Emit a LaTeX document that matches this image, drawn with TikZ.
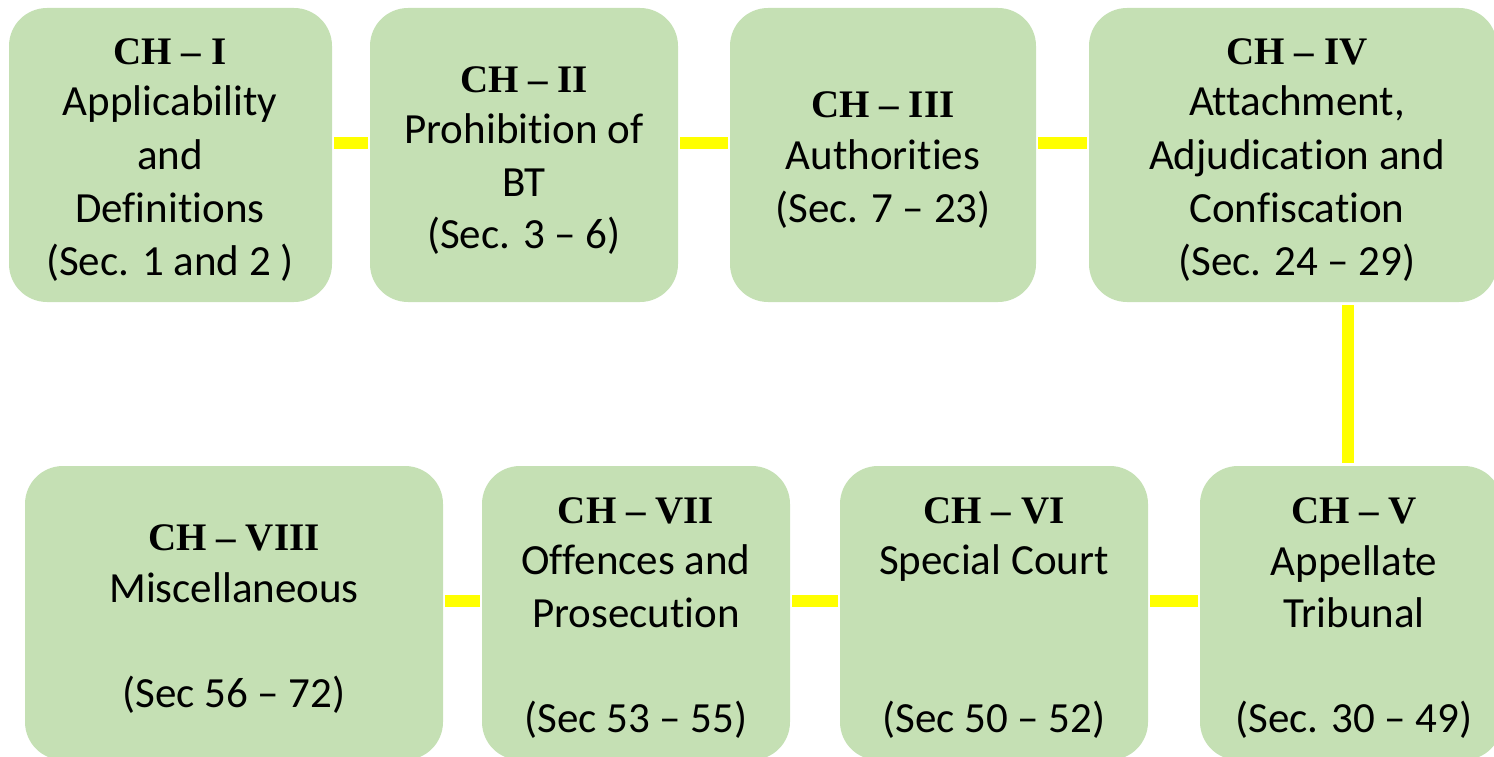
\documentclass[tikz,border=0pt]{standalone}
\usepackage{fontspec}
\setmainfont[Ligatures={NoCommon,NoContextual,NoRare}]{Carlito}
\newfontfamily\chapfont{Liberation Serif}
\definecolor{boxgreen}{HTML}{C5E0B4}
\definecolor{linkyellow}{HTML}{FFFF00}
% keeps "t" and "i" as separate glyphs
\newcommand{\ti}{t\kern0pt i}
\begin{document}
\begin{tikzpicture}[x=1pt,y=-1pt,
  box/.style={fill=boxgreen, rounded corners=38pt, inner sep=0pt, minimum height=294pt},
  head/.style={anchor=base, inner sep=0pt, font=\chapfont\bfseries\fontsize{39}{39}\selectfont},
  body/.style={anchor=base, inner sep=0pt, font=\fontsize{43}{52.5}\selectfont},
  link/.style={draw=linkyellow, line width=12pt, shorten >=2pt, shorten <=2pt}]
\useasboundingbox (0,0) rectangle (1494,757);

% ---- upper row: chapters I to IV ----
\node[box, minimum width=323pt] (b1) at (170.5,155) {};
\node[head] (b1h) at (170,65)  {CH – I};
\node[body] (b1a) at (170,116) {Applicability};
\node[body] (b1b) at (170,169) {and};
\node[body] (b1c) at (170,222) {Defini\ti ons};
\node[body] (b1d) at (170,275) {(Sec. 1 and 2 )};

\node[box, minimum width=308pt] (b2) at (524,155) {};
\node[head] (b2h) at (524,93)  {CH – II};
\node[body] (b2a) at (524,144) {Prohibi\ti on of};
\node[body] (b2b) at (524,196) {BT};
\node[body] (b2c) at (524,248) {(Sec. 3 – 6)};

\node[box, minimum width=306pt] (b3) at (883,155) {};
\node[head] (b3h) at (883,118) {CH – III};
\node[body] (b3a) at (883,170) {Authori\ti es};
\node[body] (b3b) at (883,222) {(Sec. 7 – 23)};

\node[box, minimum width=408pt] (b4) at (1293,155) {};
\node[head] (b4h) at (1297,65)  {CH – IV};
\node[body] (b4a) at (1297,116) {Attachment,};
\node[body] (b4b) at (1297,169) {Adjudication and};
\node[body] (b4c) at (1297,222) {Confisca\ti on};
\node[body] (b4d) at (1297,275) {(Sec. 24 – 29)};

% ---- lower row: chapters V to VIII ----
\node[box, minimum width=302pt] (b5) at (1351,613) {};
\node[head] (b5h) at (1354,523) {CH – V};
\node[body] (b5a) at (1354,575) {Appellate};
\node[body] (b5b) at (1354,627) {Tribunal};
\node[body] (b5c) at (1354,732) {(Sec. 30 – 49)};

\node[box, minimum width=308pt] (b6) at (994,613) {};
\node[head] (b6h) at (994,523) {CH – VI};
\node[body] (b6a) at (994,574) {Special Court};
\node[body] (b6b) at (994,732) {(Sec 50 – 52)};

\node[box, minimum width=308pt] (b7) at (636,613) {};
\node[head] (b7h) at (636,523) {CH – VII};
\node[body] (b7a) at (636,574) {Offences and};
\node[body] (b7b) at (636,627) {Prosecu\ti on};
\node[body] (b7c) at (636,732) {(Sec 53 – 55)};

\node[box, minimum width=418pt] (b8) at (234,613) {};
\node[head] (b8h) at (234,550) {CH – VIII};
\node[body] (b8a) at (234,602) {Miscellaneous};
\node[body] (b8b) at (234,707) {(Sec 56 – 72)};

% ---- yellow links ----
\draw[link] ([yshift=12pt]b1.east) -- ([yshift=12pt]b2.west);
\draw[link] ([yshift=12pt]b2.east) -- ([yshift=12pt]b3.west);
\draw[link] ([yshift=12pt]b3.east) -- ([yshift=12pt]b4.west);
\draw[link, shorten >=3pt, shorten <=3pt] ([xshift=54.5pt]b4.south) -- ([xshift=-3.5pt]b5.north);
\draw[link] ([yshift=12pt]b5.west) -- ([yshift=12pt]b6.east);
\draw[link] ([yshift=12pt]b6.west) -- ([yshift=12pt]b7.east);
\draw[link] ([yshift=12pt]b7.west) -- ([yshift=12pt]b8.east);
\end{tikzpicture}
\end{document}
